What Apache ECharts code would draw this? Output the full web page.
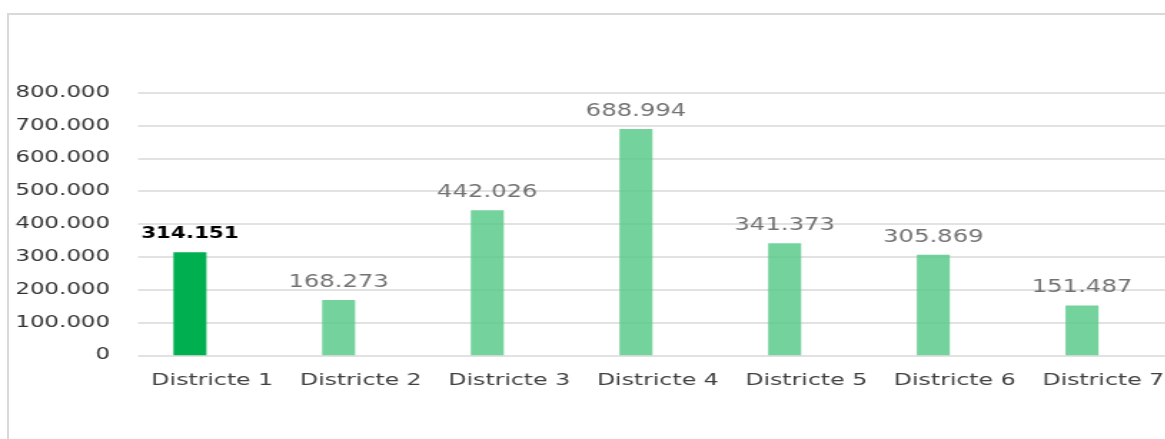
<!DOCTYPE html>
<html>
<head>
<meta charset="utf-8">
<script src="https://cdn.jsdelivr.net/npm/echarts@6/dist/echarts.min.js"></script>
<style>
  html, body { margin: 0; padding: 0; background: #fff; overflow: hidden; }
  #frame { position: absolute; left: 7px; top: 13px; width: 1200px; height: 500px;
           border-left: 2px solid #d9d9d9; border-top: 2px solid #d9d9d9; }
  #main { position: absolute; left: 0; top: 0; height: 439px; transform-origin: 0 0; }
</style>
</head>
<body>
<div id="frame"></div>
<div id="main"></div>
<script>
// dades
var categories = ['Districte 1', 'Districte 2', 'Districte 3', 'Districte 4', 'Districte 5', 'Districte 6', 'Districte 7'];
var values = [314151, 168273, 442026, 688994, 341373, 305869, 151487];
var yMin = 0, yMax = 800000, yStep = 100000;
var highlightIndex = 0;

// el text de la imatge original esta eixamplat horitzontalment
var S = 1.43;
var W = 1165 / S;
function sx(px) { return px / S; }

var el = document.getElementById('main');
el.style.width = W + 'px';
el.style.transform = 'scaleX(' + S + ')';

function fmt(v) {
  return String(v).replace(/\B(?=(\d{3})+(?!\d))/g, '.');
}

var barData = values.map(function (v, i) {
  if (i === highlightIndex) {
    return {
      value: v,
      itemStyle: { color: '#00b050', opacity: 1 },
      label: { color: '#000', fontWeight: 'bold', fontSize: 15, distance: 11 }
    };
  }
  return v;
});

var gridTop = 92.6, gridHeight = 355.3 - 92.6;

var option = {
  animation: false,
  grid: [
    // linies horitzontals i etiquetes de l'eix Y
    { left: sx(138), right: 0, top: gridTop, height: gridHeight, outerBoundsMode: 'none' },
    // barres
    { left: sx(115.6), width: sx(1040.7), top: gridTop, height: gridHeight, outerBoundsMode: 'none' },
    // etiquetes de categoria (desplacades respecte a les barres, com a l'original)
    { left: sx(138), width: sx(1039.5), top: gridTop, height: gridHeight, outerBoundsMode: 'none' }
  ],
  xAxis: [
    { type: 'category', gridIndex: 0, data: categories, show: false },
    { type: 'category', gridIndex: 1, data: categories, show: false },
    {
      type: 'category', gridIndex: 2, data: categories,
      axisLine: { show: false }, axisTick: { show: false },
      axisLabel: { interval: 0, color: '#404040', fontSize: 16.5, fontFamily: 'DejaVu Sans', margin: 17 }
    }
  ],
  yAxis: [
    {
      type: 'value', gridIndex: 0, min: yMin, max: yMax, interval: yStep,
      axisLine: { show: false }, axisTick: { show: false },
      splitLine: { lineStyle: { color: '#d9d9d9', width: 1.5 } },
      axisLabel: {
        color: '#333', fontSize: 16, fontFamily: 'DejaVu Sans', margin: sx(28),
        formatter: function (v) { return fmt(v); }
      }
    },
    { type: 'value', gridIndex: 1, min: yMin, max: yMax, interval: yStep, show: false },
    { type: 'value', gridIndex: 2, min: yMin, max: yMax, interval: yStep, show: false }
  ],
  series: [{
    type: 'bar',
    xAxisIndex: 1,
    yAxisIndex: 1,
    data: barData,
    barWidth: sx(33),
    itemStyle: { color: '#5ccb8c', opacity: 0.85 },
    label: {
      show: true, position: 'top', distance: 9,
      color: '#595959', fontSize: 17, fontFamily: 'DejaVu Sans',
      formatter: function (p) { return fmt(p.value); }
    }
  }]
};

var myChart = echarts.init(el);
myChart.setOption(option);
</script>
</body>
</html>
